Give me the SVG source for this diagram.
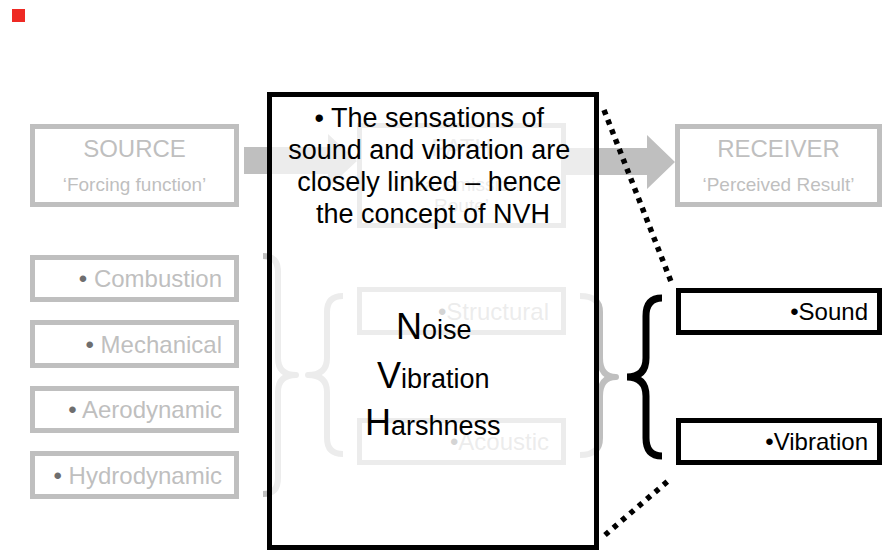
<svg xmlns="http://www.w3.org/2000/svg" width="883" height="550" viewBox="0 0 883 550">
<style>
text{font-family:"Liberation Sans",Arial,sans-serif}
.gbox{fill:#ffffff;stroke:#bfbfbf;stroke-width:5}
.gt{fill:#bfbfbf;font-size:24px}
.gs{fill:#bfbfbf;font-size:19px}
.bul{fill:#6e6e6e}
.gbrace{fill:none;stroke:#bfbfbf;stroke-width:6;stroke-linejoin:round}
.arrow{fill:#bfbfbf}
.bbox{fill:#ffffff;stroke:#000000;stroke-width:5}
.bt{fill:#000000;font-size:24px}
.big{font-size:36px}
.dots{fill:none;stroke:#000000;stroke-width:5.5}
</style>
<rect id="marker-square" x="12" y="9" width="13" height="13" fill="#ee2a24"/>
<g id="connectors-back">
<path class="arrow" d="M244,147 L328,147 L328,134 L357,161 L328,188 L328,174 L244,174 Z"/>
<path class="arrow" d="M566,148 L647,148 L647,135 L675,162 L647,189 L647,175 L566,175 Z"/>
<path class="gbrace" d="M263,256 Q278,256 278,272 L278,358 Q278,375 296,375 Q278,375 278,392 L278,478 Q278,494 263,494"/>
<path class="gbrace" d="M343,296 Q327,296 327,312 L327,358 Q327,375 308,375 Q327,375 327,392 L327,438 Q327,454 343,454"/>
<path class="gbrace" d="M580,296 Q600,296 600,312 L600,358 Q600,377 616,377 Q600,377 600,396 L600,438 Q600,455 580,455"/>
</g>
<g id="source">
<rect class="gbox" x="32.5" y="126.5" width="204" height="78"/>
<text class="gt" x="134.5" y="157" text-anchor="middle">SOURCE</text>
<text class="gs" x="134.5" y="191" text-anchor="middle">‘Forcing function’</text>
</g>
<g id="path">
<rect class="gbox" x="359.5" y="125.5" width="204" height="100"/>
<text class="gt" x="461.5" y="156" text-anchor="middle">PATH</text>
<text class="gs" x="461.5" y="191" text-anchor="middle">‘Transmission</text>
<text class="gs" x="461.5" y="212" text-anchor="middle">Route’</text>
</g>
<g id="receiver">
<rect class="gbox" x="677.5" y="126.5" width="202" height="78"/>
<text class="gt" x="778.5" y="157" text-anchor="middle">RECEIVER</text>
<text class="gs" x="778.5" y="191" text-anchor="middle">‘Perceived Result’</text>
</g>
<g id="combustion">
<rect class="gbox" x="32.5" y="257.5" width="204" height="42"/>
<text class="gt" x="222" y="287" text-anchor="end"><tspan class="bul">•</tspan> Combustion</text>
</g>
<g id="mechanical">
<rect class="gbox" x="32.5" y="322.5" width="204" height="43"/>
<text class="gt" x="222" y="353" text-anchor="end"><tspan class="bul">•</tspan> Mechanical</text>
</g>
<g id="aerodynamic">
<rect class="gbox" x="32.5" y="388.5" width="204" height="42"/>
<text class="gt" x="222" y="418" text-anchor="end"><tspan class="bul">•</tspan> Aerodynamic</text>
</g>
<g id="hydrodynamic">
<rect class="gbox" x="32.5" y="453.5" width="204" height="43"/>
<text class="gt" x="222" y="484" text-anchor="end"><tspan class="bul">•</tspan> Hydrodynamic</text>
</g>
<g id="structural">
<rect class="gbox" x="359.5" y="289.5" width="204" height="43"/>
<text class="gt" x="549" y="320" text-anchor="end"><tspan class="bul">•</tspan>Structural</text>
</g>
<g id="acoustic">
<rect class="gbox" x="359.5" y="420.5" width="204" height="42"/>
<text class="gt" x="549" y="450" text-anchor="end"><tspan class="bul">•</tspan>Acoustic</text>
</g>
<g id="nvh-box">
<rect x="269.5" y="94.5" width="327" height="453" fill="#ffffff" fill-opacity="0.7" stroke="#000000" stroke-width="5"/>
<text class="bt" text-anchor="middle" style="font-size:27px">
<tspan x="433" y="127">• The sensations of</tspan>
<tspan x="433" y="159">sound and vibration are</tspan>
<tspan x="433" y="191">closely linked – hence</tspan>
<tspan x="433" y="223">the concept of NVH</tspan>
</text>
<text class="bt" style="font-size:27px" x="396" y="339"><tspan class="big">N</tspan>oise</text>
<text class="bt" style="font-size:27px" x="377" y="388"><tspan class="big">V</tspan>ibration</text>
<text class="bt" style="font-size:27px" x="365" y="435"><tspan class="big">H</tspan>arshness</text>
</g>
<g id="sound">
<rect class="bbox" x="678.5" y="290.5" width="201" height="42"/>
<text class="bt" x="868" y="320" text-anchor="end">•Sound</text>
</g>
<g id="vibration">
<rect class="bbox" x="678.5" y="420.5" width="201" height="42"/>
<text class="bt" x="868" y="450" text-anchor="end">•Vibration</text>
</g>
<g id="connectors">
<path d="M662,298 Q646,298 646,316 L646,358 Q646,377 627,377 Q646,377 646,396 L646,438 Q646,456 662,456" fill="none" stroke="#000000" stroke-width="7"/>
<line class="dots" x1="604" y1="110" x2="672" y2="284" stroke-dasharray="5 5.5"/>
<line class="dots" x1="605" y1="535" x2="668" y2="481" stroke-dasharray="5 6"/>
</g>
</svg>
